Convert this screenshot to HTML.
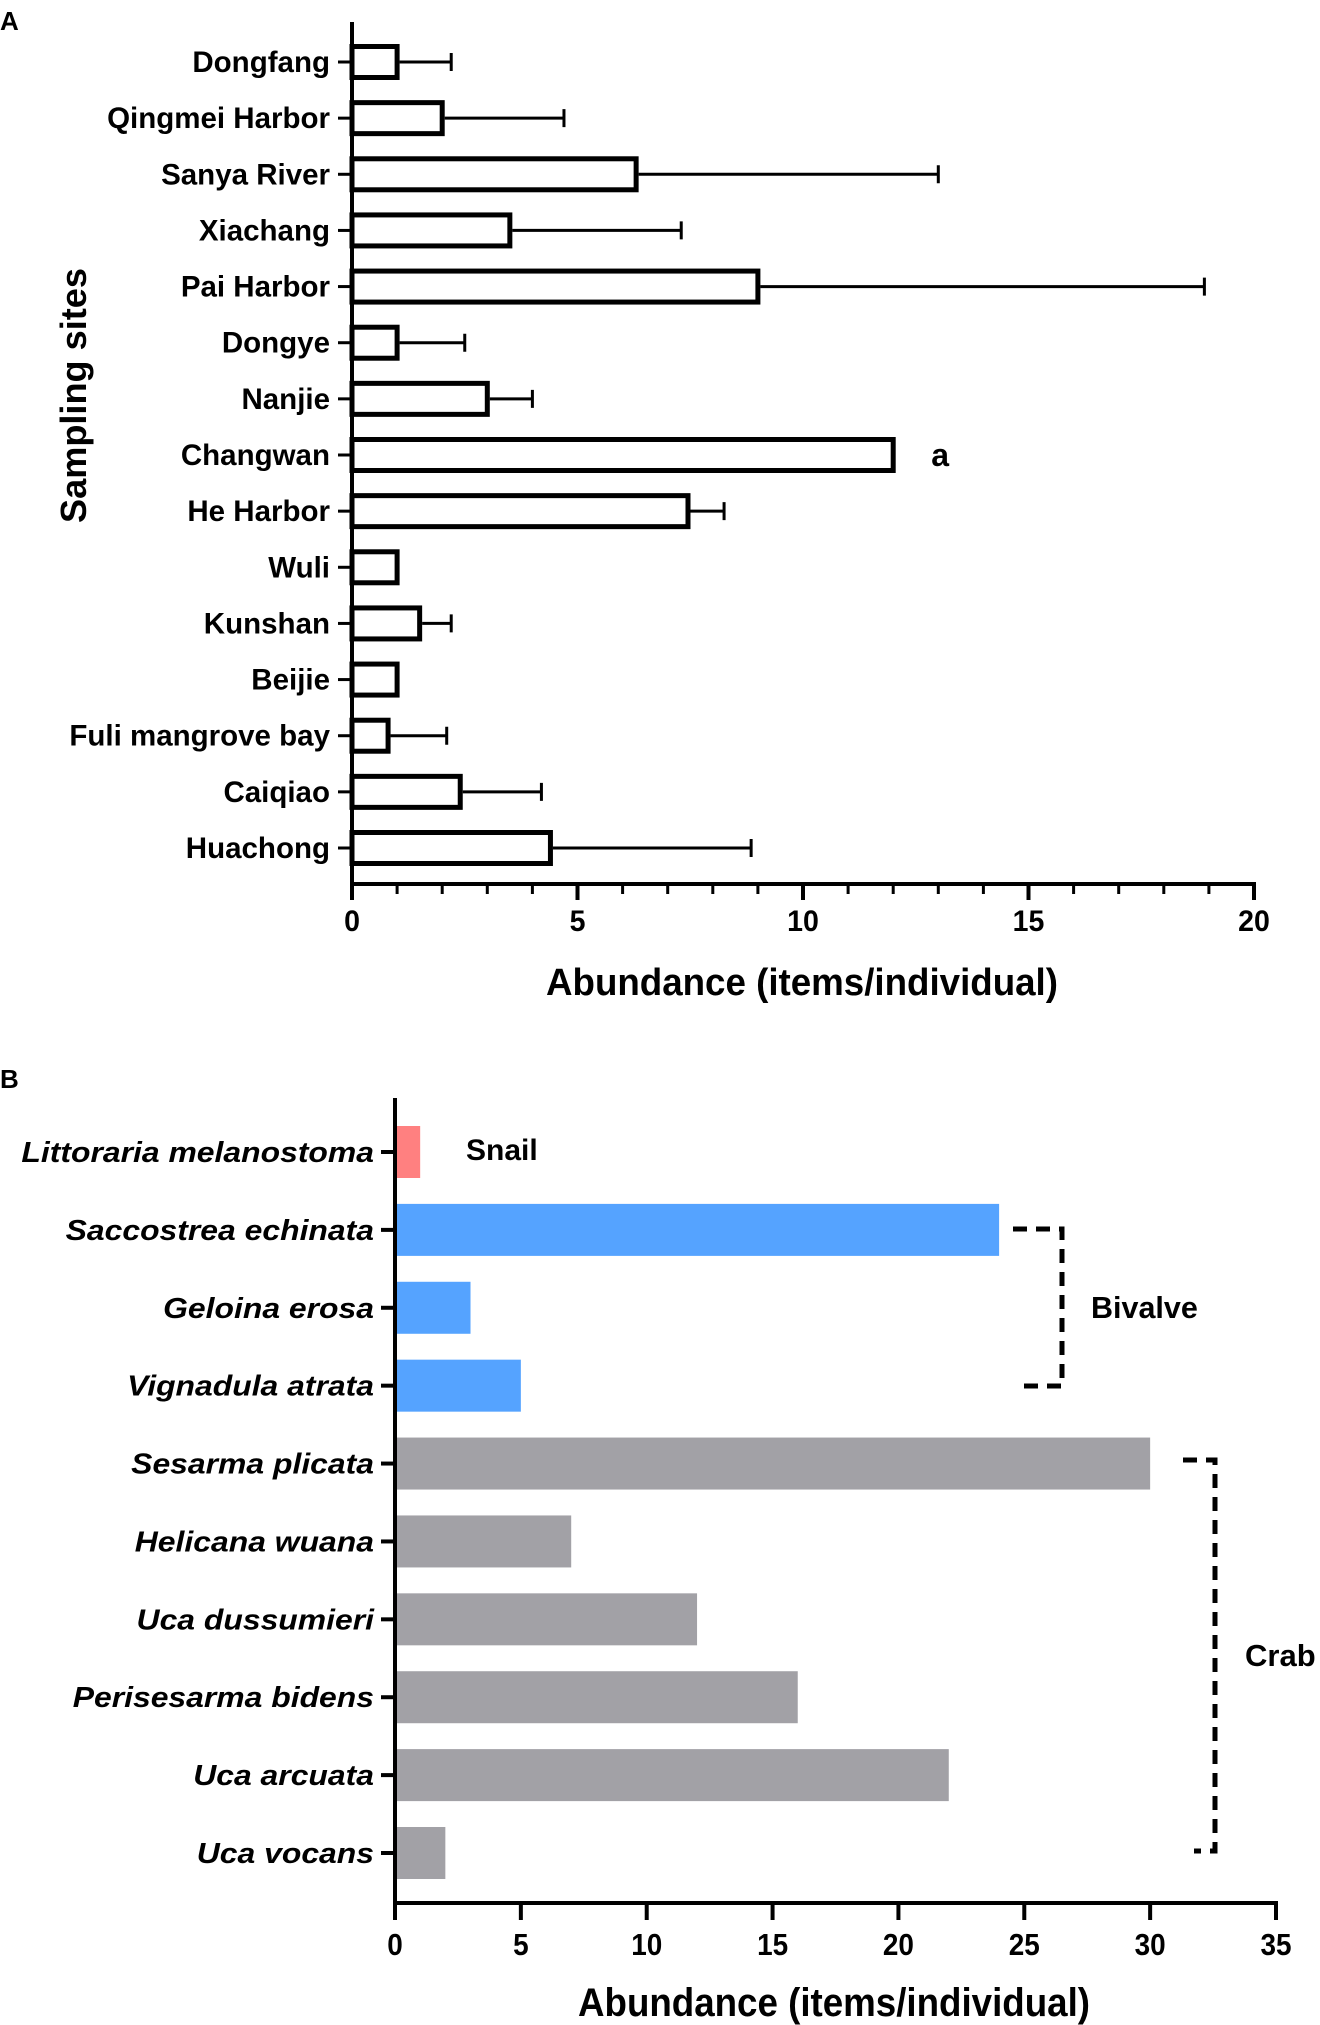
<!DOCTYPE html>
<html><head><meta charset="utf-8"><style>
html,body{margin:0;padding:0;background:#fff;}
svg{display:block;font-family:"Liberation Sans",Arial,sans-serif;font-weight:bold;}
</style></head><body>
<svg id="fig" width="1320" height="2025" viewBox="0 0 1320 2025" xmlns="http://www.w3.org/2000/svg">
<g id="pa"></g>
<g id="pb"></g>
</svg>
<script>
// Panel A data
const sitesA = ["Dongfang","Qingmei Harbor","Sanya River","Xiachang","Pai Harbor","Dongye","Nanjie","Changwan","He Harbor","Wuli","Kunshan","Beijie","Fuli mangrove bay","Caiqiao","Huachong"];
const meanA = [1,2,6.3,3.5,9,1,3,12,7.45,1,1.5,1,0.8,2.4,4.4];
const errA = [2.2,4.7,13,7.3,18.9,2.5,4,null,8.25,null,2.2,null,2.1,4.2,8.85];
const ticksA = [0,5,10,15,20];
// Panel B data
const speciesB = ["Littoraria melanostoma","Saccostrea echinata","Geloina erosa","Vignadula atrata","Sesarma plicata","Helicana wuana","Uca dussumieri","Perisesarma bidens","Uca arcuata","Uca vocans"];
const valB = [1,24,3,5,30,7,12,16,22,2];
const groupB = ["snail","bivalve","bivalve","bivalve","crab","crab","crab","crab","crab","crab"];
const ticksB = [0,5,10,15,20,25,30,35];

const NS="http://www.w3.org/2000/svg";
function mk(parent,tag,attrs,text){const e=document.createElementNS(NS,tag);for(const k in attrs)e.setAttribute(k,attrs[k]);if(text!==undefined)e.textContent=text;parent.appendChild(e);return e;}

// ---------- Panel A ----------
const pa=document.getElementById('pa');
const ax0=352, axScale=45.1, ay0=62, aStep=(848-62)/14, axisBottomA=884, axisTopA=22;
const xA=v=>ax0+v*axScale, yA=i=>ay0+i*aStep;
let t=mk(pa,'text',{x:0,y:30,'font-size':26},'A');

sitesA.forEach((s,i)=>{
  const y=yA(i);
  let r=mk(pa,'rect',{x:xA(0),y:y-15.5,width:xA(meanA[i])-xA(0),height:31,fill:'#fff',stroke:'#000','stroke-width':5});
  
  
  if(errA[i]!==null){
    let l=mk(pa,'path',{d:`M${xA(meanA[i])+2.5},${y}H${xA(errA[i])}M${xA(errA[i])},${y-9}V${y+9}`,stroke:'#000','stroke-width':3,fill:'none'});
    
    
  }
  let tk=mk(pa,'line',{x1:ax0-14,x2:ax0,y1:y,y2:y,stroke:'#000','stroke-width':3});
  
  
  let lb=mk(pa,'text',{transform:`translate(${ax0-22},${y+10}) scale(1.0,1)`,'text-anchor':'end','font-size':29.5},s);
  
  
});
let axA=mk(pa,'path',{d:`M${ax0},${axisTopA}V${axisBottomA}H${xA(20)+2}`,stroke:'#000','stroke-width':4,fill:'none'});

for(let v=0;v<=20;v++){
  const big=v%5===0;
  let m=mk(pa,'line',{x1:xA(v),x2:xA(v),y1:axisBottomA,y2:axisBottomA+(big?16:10),stroke:'#000','stroke-width':big?4:3});
  
}
ticksA.forEach(v=>{
  let l=mk(pa,'text',{transform:`translate(${xA(v)},${931}) scale(0.95,1)`,'text-anchor':'middle','font-size':30},String(v));
  
});
let annA=mk(pa,'text',{x:xA(meanA[7])+38,y:466,'font-size':32},'a');

let xtA=mk(pa,'text',{x:546,y:995,'font-size':38,textLength:512,lengthAdjust:'spacingAndGlyphs'},'Abundance (items/individual)');

let ytA=mk(pa,'text',{transform:'translate(86,523) rotate(-90)','font-size':36,textLength:255,lengthAdjust:'spacingAndGlyphs'},'Sampling sites');


// ---------- Panel B ----------
const pb=document.getElementById('pb');
const bx0=395, bxScale=(1276-395)/35, by0=1152, bStep=(1853-1152)/9, axisBottomB=1903, axisTopB=1098;
const xB=v=>bx0+v*bxScale, yB=i=>by0+i*bStep;
const colors={snail:'#ff8080',bivalve:'#55a3ff',crab:'#a2a1a6'};
t=mk(pb,'text',{x:0,y:1088,'font-size':26},'B');

speciesB.forEach((s,i)=>{
  const y=yB(i);
  let r=mk(pb,'rect',{x:xB(0),y:y-26,width:xB(valB[i])-xB(0),height:52,fill:colors[groupB[i]]});
  
  
  let tk=mk(pb,'line',{x1:bx0-14,x2:bx0,y1:y,y2:y,stroke:'#000','stroke-width':4});
  
  let lb=mk(pb,'text',{transform:`translate(${bx0-21},${y+10}) scale(1.1,1)`,'text-anchor':'end','font-size':29,'font-style':'italic'},s);
  
});
let axB=mk(pb,'path',{d:`M${bx0},${axisBottomB}V${axisTopB}M${bx0-2},${axisBottomB}H${xB(35)+2}`,stroke:'#000','stroke-width':4,fill:'none'});

ticksB.forEach(v=>{
  let m=mk(pb,'line',{x1:xB(v),x2:xB(v),y1:axisBottomB,y2:axisBottomB+17,stroke:'#000','stroke-width':4});
  
  let l=mk(pb,'text',{transform:`translate(${xB(v)},${1955}) scale(0.9,1)`,'text-anchor':'middle','font-size':31},String(v));
  
});
let xtB=mk(pb,'text',{x:578,y:2016,'font-size':40,textLength:512,lengthAdjust:'spacingAndGlyphs'},'Abundance (items/individual)');

let g1=mk(pb,'text',{x:466,y:1160,'font-size':30},'Snail');

let g2=mk(pb,'text',{x:1091,y:1318,'font-size':30.5},'Bivalve');

let g3=mk(pb,'text',{x:1245,y:1666,'font-size':31},'Crab');

let br1=mk(pb,'path',{d:'M1013,1229H1062V1386H1021',stroke:'#000','stroke-width':5,fill:'none','stroke-dasharray':'14 9'});

let br2=mk(pb,'path',{d:'M1183,1460H1215V1851H1194',stroke:'#000','stroke-width':5,fill:'none','stroke-dasharray':'14 9'});

</script>
</body></html>
